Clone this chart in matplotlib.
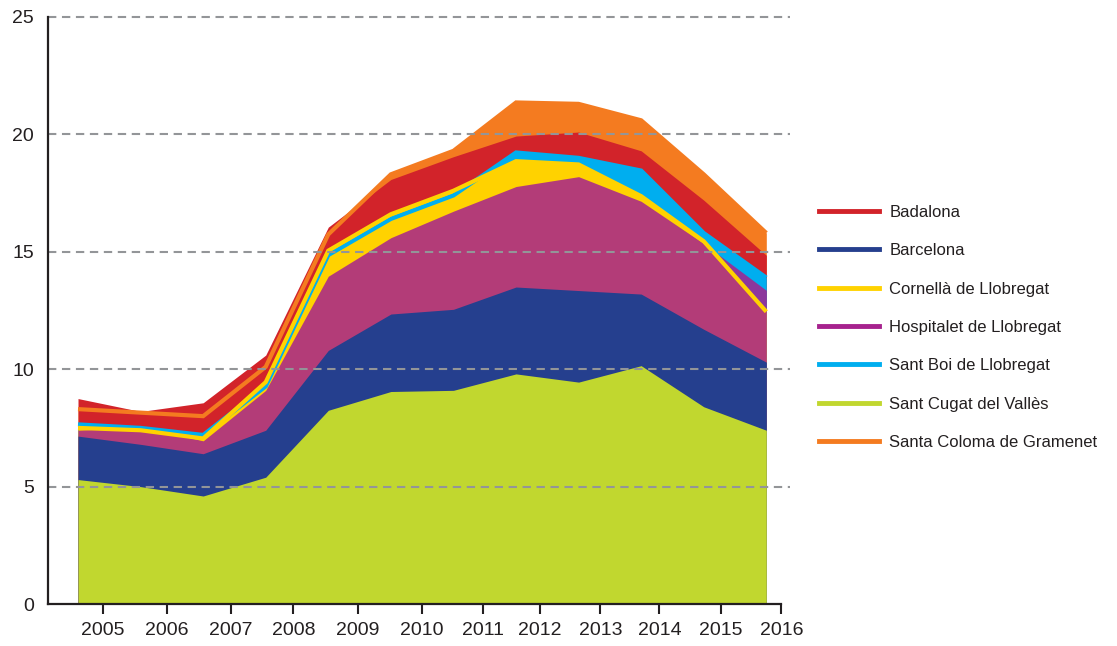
import numpy as np
import matplotlib.pyplot as plt
from matplotlib.lines import Line2D

plt.rcParams['font.family'] = ['Liberation Sans', 'DejaVu Sans']

years = [2005, 2006, 2007, 2008, 2009, 2010, 2011, 2012, 2013, 2014, 2015, 2016]

# height reached by each area
badalona = [8.75, 8.2, 8.57, 10.6, 16.05, 18.08, 19.05, 19.93, 20.1, 19.3, 17.2, 14.85]
barcelona = [7.15, 6.8, 6.4, 7.4, 10.8, 12.35, 12.55, 13.5, 13.35, 13.2, 11.7, 10.3]
cornella = [7.5, 7.4, 7.05, 9.45, 15.05, 16.6, 17.6, 18.86, 18.72, 17.37, 15.45, 12.45]
hospitalet = [7.4, 7.55, 6.95, 9.1, 13.96, 15.6, 16.73, 17.78, 18.2, 17.15, 15.35, 13.36]
sant_boi = [7.65, 7.5, 7.2, 9.27, 14.86, 16.4, 17.4, 19.23, 19.0, 18.46, 15.8, 13.9]
sant_cugat = [5.3, 5.0, 4.6, 5.4, 8.25, 9.05, 9.1, 9.8, 9.45, 10.15, 8.4, 7.4]
santa_coloma = [8.3, 8.15, 8.0, 10.1, 15.74, 18.3, 19.3, 21.36, 21.3, 20.6, 18.3, 15.8]

names = ["Badalona", "Barcelona", "Cornellà de Llobregat", "Hospitalet de Llobregat",
         "Sant Boi de Llobregat", "Sant Cugat del Vallès", "Santa Coloma de Gramenet"]
colors = {"Badalona": "#d2232a", "Barcelona": "#253f8e", "Cornellà de Llobregat": "#ffd200",
          "Hospitalet de Llobregat": "#a6228e", "Sant Boi de Llobregat": "#00aeef",
          "Sant Cugat del Vallès": "#c1d72f", "Santa Coloma de Gramenet": "#f47b20"}
values = {"Badalona": badalona, "Barcelona": barcelona, "Cornellà de Llobregat": cornella,
          "Hospitalet de Llobregat": hospitalet, "Sant Boi de Llobregat": sant_boi,
          "Sant Cugat del Vallès": sant_cugat, "Santa Coloma de Gramenet": santa_coloma}

# painting order, back to front
draw_order = ["Santa Coloma de Gramenet", "Badalona", "Sant Boi de Llobregat",
              "Cornellà de Llobregat", "Hospitalet de Llobregat", "Barcelona",
              "Sant Cugat del Vallès"]
edge_lines = ["Sant Boi de Llobregat", "Cornellà de Llobregat", "Santa Coloma de Gramenet"]

ink = "#231f20"
x = np.arange(len(years))
tick_pos = [0.40, 1.42, 2.44, 3.44, 4.47, 5.50, 6.47, 7.38, 8.35, 9.29, 10.27, 11.24]

fig = plt.figure(figsize=(11.17, 6.46), dpi=100)
ax = fig.add_axes([0.043, 0.065, 0.664, 0.9087])

for i, name in enumerate(draw_order):
    alpha = 0.85 if name == "Hospitalet de Llobregat" else 1.0
    ax.fill_between(x, 0, values[name], color=colors[name], alpha=alpha,
                    linewidth=0, zorder=1 + i * 0.1)

for name in edge_lines:
    ax.plot(x, values[name], color=colors[name], lw=3, solid_capstyle="butt",
            solid_joinstyle="miter", zorder=3)

for yv in [5, 10, 15, 20, 25]:
    ax.axhline(yv, color="#939598", lw=1.5, ls=(0, (4, 2.7)), zorder=5, clip_on=False)

ax.set_xlim(-0.479, 11.374)
ax.set_ylim(0, 25)
ax.set_yticks([0, 5, 10, 15, 20, 25])
ax.set_xticks(tick_pos)
ax.set_xticklabels([str(y) for y in years])

for s in ["top", "right"]:
    ax.spines[s].set_visible(False)
for s in ["left", "bottom"]:
    ax.spines[s].set_color(ink)
    ax.spines[s].set_linewidth(1.6)
    ax.spines[s].set_zorder(6)
ax.spines["bottom"].set_bounds(-0.479, tick_pos[-1])

ax.tick_params(axis="y", length=0, pad=10, labelsize=14, labelcolor=ink)
ax.tick_params(axis="x", length=7, width=1.5, color=ink, pad=6, labelsize=14, labelcolor=ink)

handles = [Line2D([0], [0], color=colors[n], lw=3.5) for n in names]
fig.legend(handles, names, loc="upper left", bbox_to_anchor=(0.72, 0.706), frameon=False,
           fontsize=12, handlelength=3.6, handletextpad=0.6, labelspacing=1.4,
           labelcolor=ink)

fig.savefig("out.png", dpi=100)
